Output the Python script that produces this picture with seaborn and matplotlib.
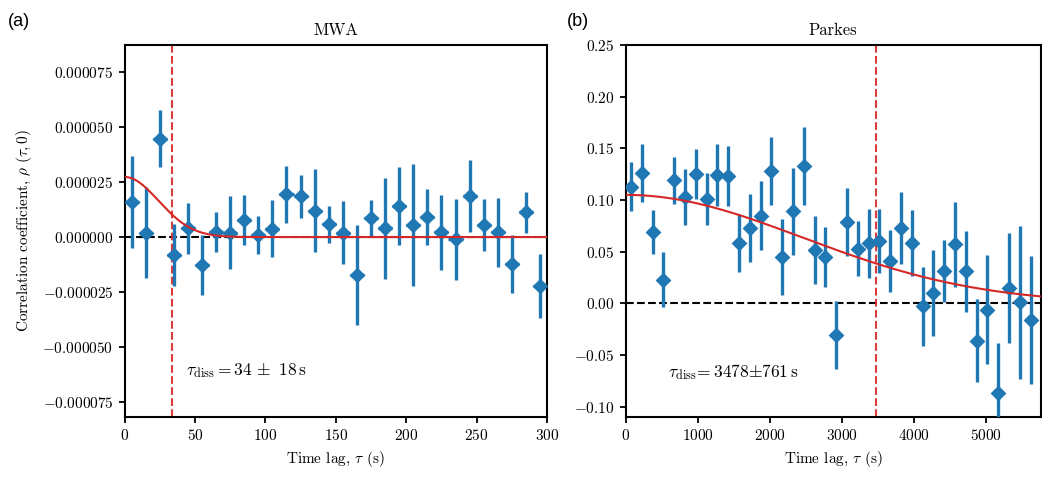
import numpy as np
import pandas as pd
import matplotlib
matplotlib.use("Agg")
import matplotlib.pyplot as plt
import seaborn as sns
from matplotlib.ticker import MultipleLocator, FuncFormatter

# MWA: lag bins (s), correlation and 1-sigma errors
mwa_lag = [5, 15, 25, 35, 45, 55, 65, 75, 85, 95, 105, 115, 125, 135, 145,
           155, 165, 175, 185, 195, 205, 215, 225, 235, 245, 255, 265, 275, 285, 295]
mwa_rho = [1.6e-5, 0.2e-5, 4.49e-5, -0.82e-5, 0.39e-5, -1.27e-5, 0.24e-5, 0.2e-5,
           0.77e-5, 0.09e-5, 0.38e-5, 1.95e-5, 1.86e-5, 1.2e-5, 0.58e-5,
           0.2e-5, -1.73e-5, 0.85e-5, 0.39e-5, 1.41e-5, 0.55e-5, 0.92e-5,
           0.21e-5, -0.11e-5, 1.86e-5, 0.55e-5, 0.21e-5, -1.23e-5, 1.12e-5, -2.23e-5]
mwa_err = [2.1e-5, 2.08e-5, 1.32e-5, 1.4e-5, 1.18e-5, 1.36e-5, 0.9e-5, 1.67e-5,
           1.14e-5, 0.88e-5, 1.29e-5, 1.29e-5, 0.98e-5, 1.9e-5, 0.83e-5,
           1.44e-5, 2.29e-5, 0.83e-5, 2.3e-5, 1.77e-5, 2.77e-5, 1.29e-5,
           1.72e-5, 1.86e-5, 1.63e-5, 1.2e-5, 1.59e-5, 1.33e-5, 0.93e-5, 1.48e-5]
mwa_bin = 10
mwa_amp, mwa_tau, mwa_tau_err = 2.74e-5, 34, 18

# Parkes
pks_lag = [75 + 150 * i for i in range(38)]
pks_rho = [0.113, 0.126, 0.069, 0.023, 0.119, 0.103, 0.125, 0.101, 0.124, 0.123,
           0.058, 0.073, 0.085, 0.128, 0.045, 0.089, 0.133, 0.052, 0.045, -0.031,
           0.079, 0.053, 0.058, 0.060, 0.041, 0.073, 0.058, -0.003, 0.010, 0.031,
           0.057, 0.031, -0.036, -0.006, -0.087, 0.015, 0.001, -0.016]
pks_err = [0.024, 0.028, 0.021, 0.027, 0.023, 0.027, 0.024, 0.025, 0.030, 0.029,
           0.028, 0.033, 0.033, 0.033, 0.037, 0.042, 0.038, 0.033, 0.029, 0.033,
           0.033, 0.027, 0.033, 0.031, 0.030, 0.035, 0.032, 0.038, 0.042, 0.030,
           0.041, 0.039, 0.040, 0.053, 0.049, 0.053, 0.074, 0.062]
pks_bin = 150
pks_amp, pks_tau, pks_tau_err = 0.105, 3478, 761

sns.set_style("ticks")
plt.rcParams.update({
    "font.family": ["cmr10", "DejaVu Serif"],
    "mathtext.fontset": "cm",
    "axes.formatter.use_mathtext": True,
    "axes.unicode_minus": True,
    "axes.linewidth": 1.5,
    "axes.edgecolor": "black",
    "axes.labelcolor": "black",
    "text.color": "black",
    "xtick.color": "black",
    "ytick.color": "black",
    "xtick.major.width": 1.3,
    "ytick.major.width": 1.3,
    "xtick.major.size": 4.5,
    "ytick.major.size": 4.5,
    "xtick.direction": "out",
    "ytick.direction": "out",
    "font.size": 11,
})

blue = "#1f77b4"
red = "#d62728"


def panel(ax, lag, rho, err, binw, amp, tau, xmax, title):
    df = pd.DataFrame({"lag": lag, "rho": rho, "err": err})
    ax.errorbar(df["lag"], df["rho"], yerr=df["err"], xerr=binw / 2, fmt="none",
                ecolor=blue, elinewidth=2.4, capsize=0, zorder=3)
    sns.scatterplot(data=df, x="lag", y="rho", marker="D", s=65, color=blue,
                    edgecolor=blue, linewidth=0, ax=ax, zorder=4, legend=False)
    fit = pd.DataFrame({"lag": np.linspace(0, xmax, 400)})
    fit["rho"] = amp * np.exp(-(fit["lag"] / tau) ** 2)
    sns.lineplot(data=fit, x="lag", y="rho", color=red, lw=1.5, ax=ax, zorder=5)
    ax.axhline(0, color="black", ls="--", lw=1.5, zorder=2)
    ax.axvline(tau, color=red, ls="--", lw=1.5, alpha=0.9, zorder=2)
    ax.set_xlim(0, xmax)
    ax.set_title(title, fontsize=12, pad=7)
    ax.set_xlabel(r"Time lag, $\tau$ (s)", fontsize=11)
    ax.set_ylabel("")


fig = plt.figure(figsize=(10.42, 4.79), dpi=100)
ax1 = fig.add_axes([0.1195, 0.1294, 0.4055, 0.7766])
ax2 = fig.add_axes([0.6003, 0.1294, 0.3988, 0.7766])

panel(ax1, mwa_lag, mwa_rho, mwa_err, mwa_bin, mwa_amp, mwa_tau, 300, "MWA")
ax1.set_ylim(-8.2e-5, 8.75e-5)
ax1.xaxis.set_major_locator(MultipleLocator(50))
ax1.yaxis.set_major_locator(MultipleLocator(2.5e-5))
ax1.yaxis.set_major_formatter(FuncFormatter(lambda v, p: f"${v:.6f}$" if abs(v) > 1e-12 else "$0.000000$"))
ax1.set_ylabel(r"Correlation coefficient, $\rho\ (\tau, 0)$", fontsize=11, labelpad=6)
ax1.text(44, -6.1e-5, rf"$\tau_{{\rm diss}} = {mwa_tau}\,\pm\ {mwa_tau_err}\,{{\rm s}}$",
         fontsize=12.5, va="center")

panel(ax2, pks_lag, pks_rho, pks_err, pks_bin, pks_amp, pks_tau, 5770, "Parkes")
ax2.set_ylim(-0.11, 0.25)
ax2.xaxis.set_major_locator(MultipleLocator(1000))
ax2.yaxis.set_major_locator(MultipleLocator(0.05))
ax2.yaxis.set_major_formatter(FuncFormatter(lambda v, p: f"${v:.2f}$" if abs(v) > 1e-9 else "$0.00$"))
ax2.text(586, -0.066, rf"$\tau_{{\rm diss}}\!= {pks_tau}{{\pm}}{pks_tau_err}\,{{\rm s}}$",
         fontsize=12.5, va="center")

fig.text(8 / 1042, 1 - 21 / 479, "(a)", fontsize=13, family=["Liberation Sans", "DejaVu Sans"], va="center")
fig.text(567 / 1042, 1 - 21 / 479, "(b)", fontsize=13, family=["Liberation Sans", "DejaVu Sans"], va="center")

fig.savefig("out.png", dpi=100)
